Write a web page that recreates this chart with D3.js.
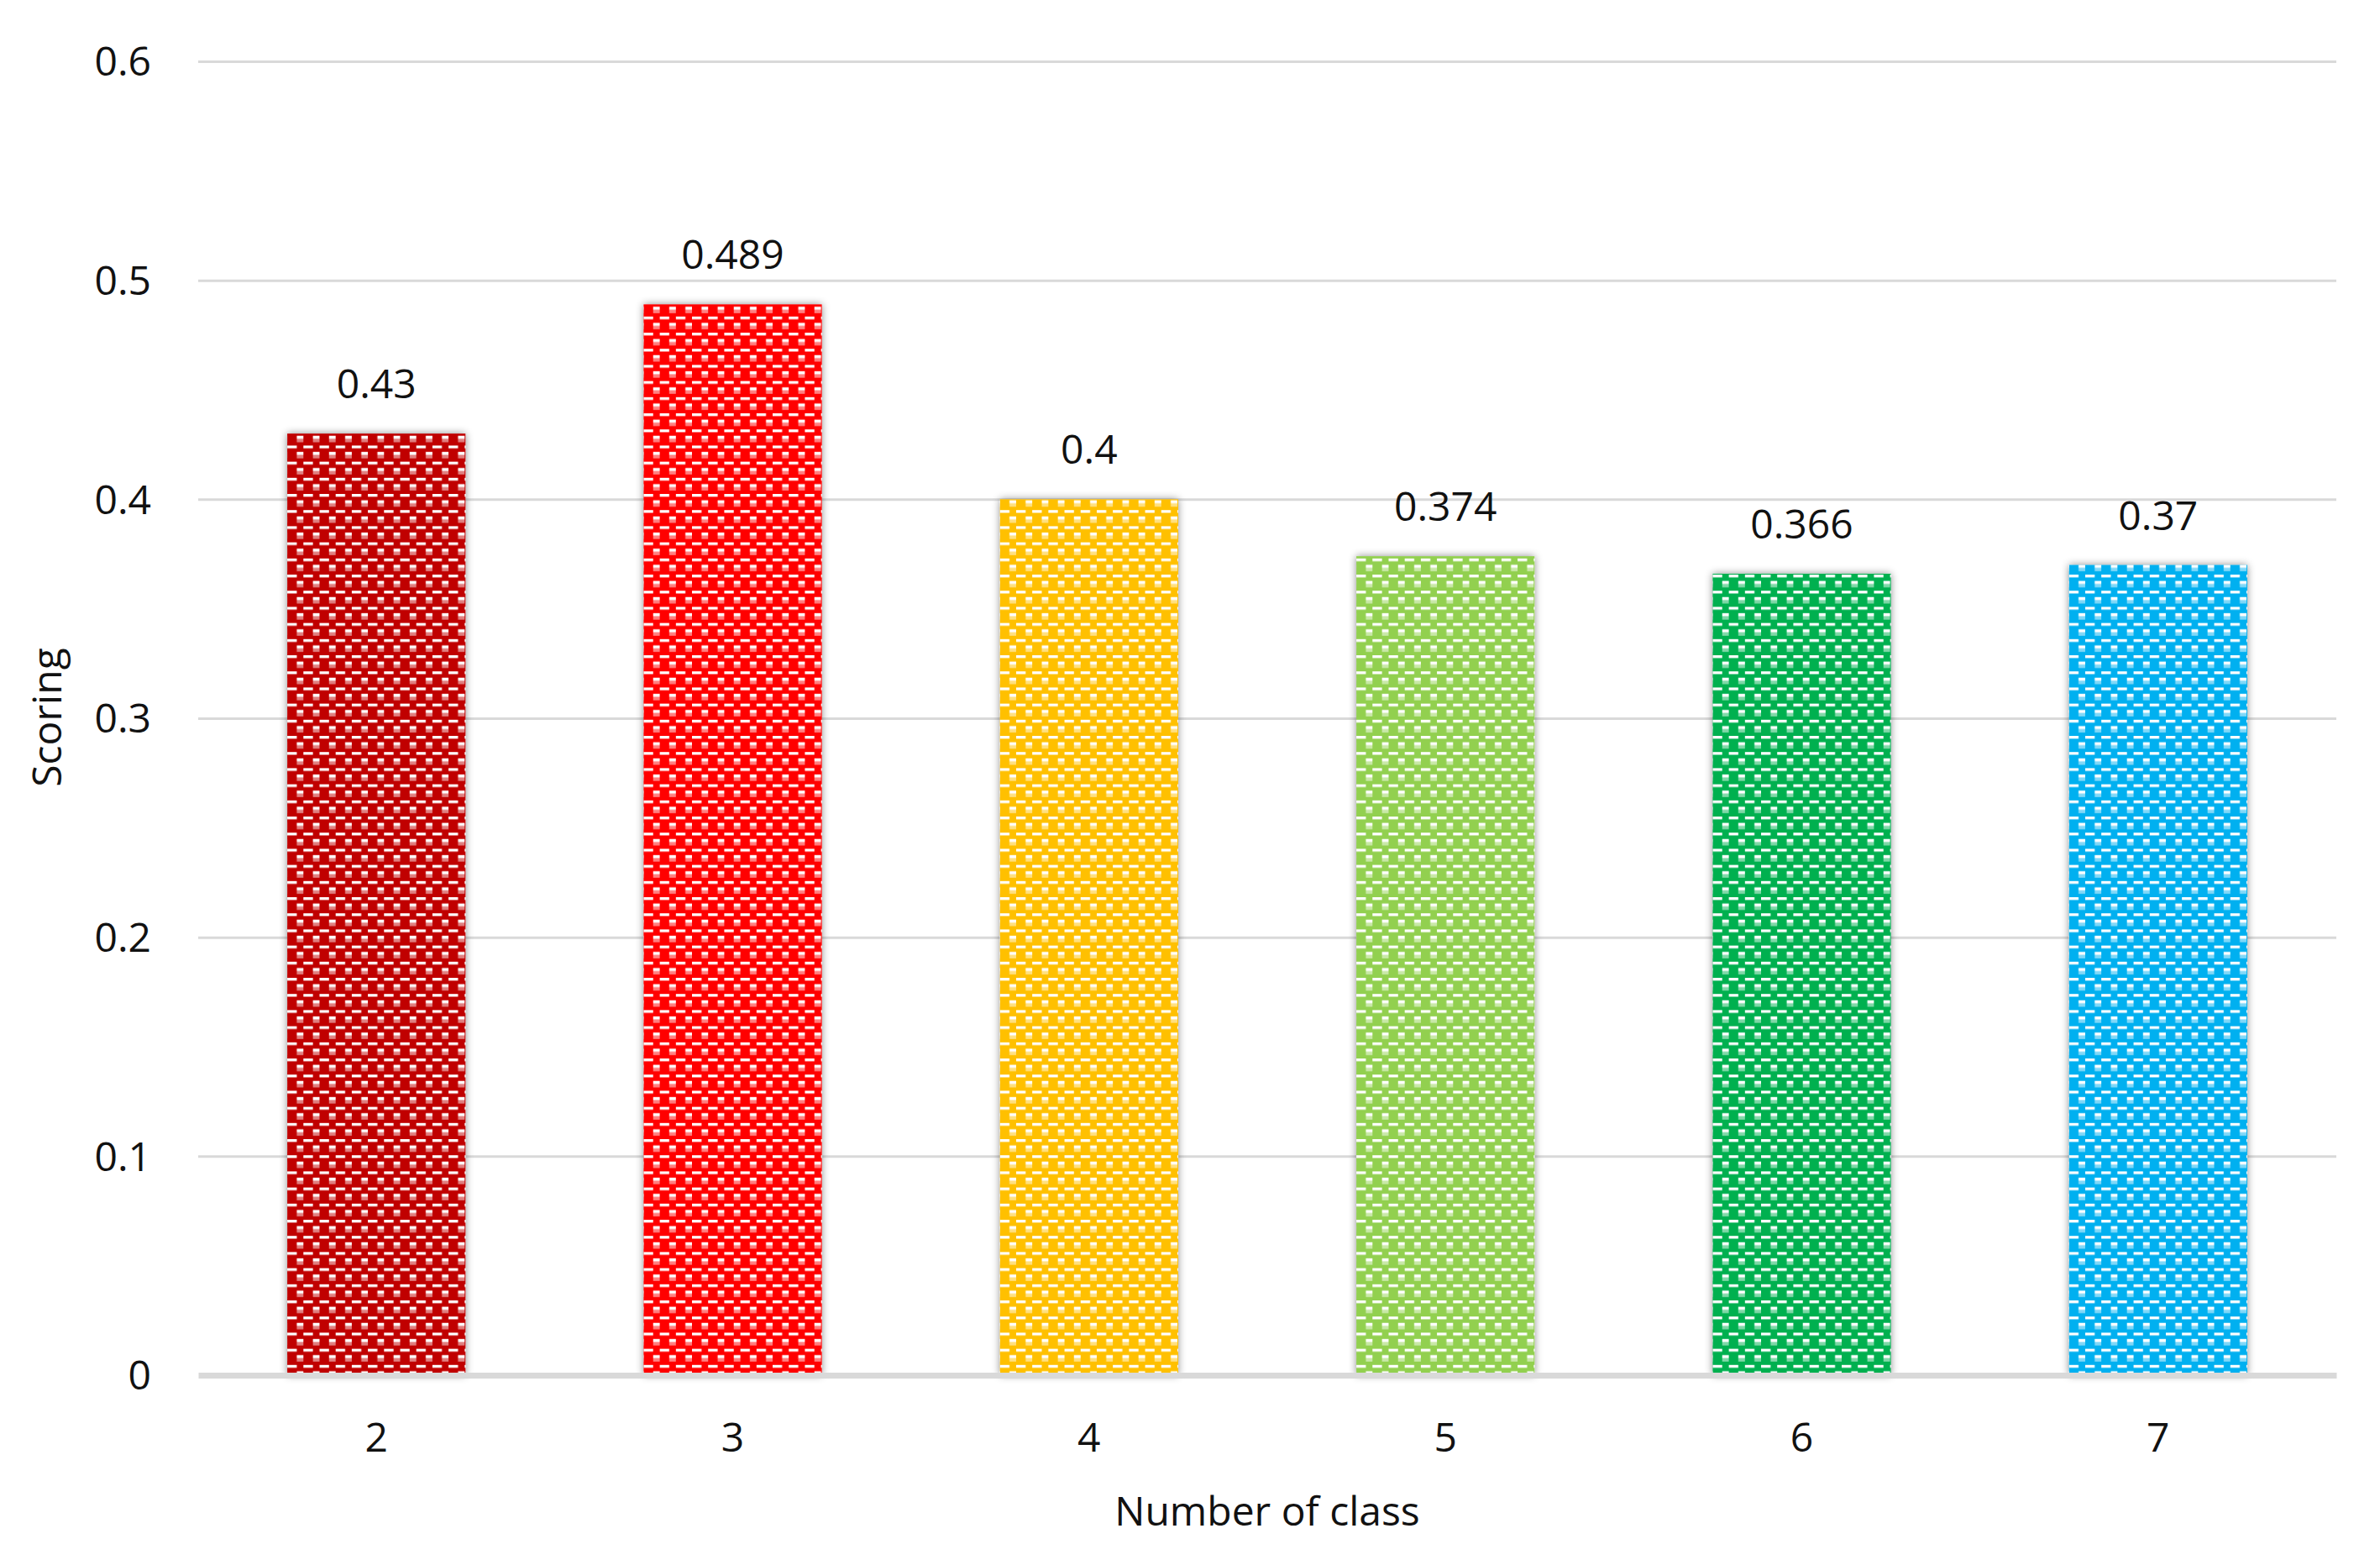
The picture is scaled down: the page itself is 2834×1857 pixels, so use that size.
<!DOCTYPE html>
<html>
<head>
<meta charset="utf-8">
<script src="https://cdn.jsdelivr.net/npm/d3@7"></script>
<style>
  html, body { margin: 0; padding: 0; background: #fff; }
  svg { display: block; }
  text { font-family: "Open Sans", "Noto Sans", sans-serif; fill: #111; }
</style>
</head>
<body>
<script>
const categories = ["2", "3", "4", "5", "6", "7"];
const values = [0.43, 0.489, 0.4, 0.374, 0.366, 0.37];
const barColors = ["#C00000", "#FF0000", "#FFC000", "#92D050", "#00B050", "#00B0F0"];
const yTicks = [0, 0.1, 0.2, 0.3, 0.4, 0.5, 0.6];
const yTickLabels = ["0", "0.1", "0.2", "0.3", "0.4", "0.5", "0.6"];
const xTitle = "Number of class";
const yTitle = "Scoring";

(function () {
const W = 2834, H = 1857;
const mLeft = 236, mRight = 2782, mTop = 73, mBottom = 1637;
const fs = 48;

const svg = d3.select("body").append("svg").attr("width", W).attr("height", H);
const defs = svg.append("defs");

const x = d3.scaleBand().domain(categories).range([mLeft, mRight]).paddingInner(0.5).paddingOuter(0.25);
const y = d3.scaleLinear().domain([0, 0.6]).range([mBottom, mTop]);

// shadow filter
const f = defs.append("filter").attr("id", "shadow")
  .attr("x", "-20%").attr("y", "-10%").attr("width", "140%").attr("height", "120%");
f.append("feDropShadow").attr("dx", 0).attr("dy", 0).attr("stdDeviation", 5)
  .attr("flood-color", "#000").attr("flood-opacity", 0.45);

// patterns
const T = 19.2;
categories.forEach((c, i) => {
  const p = defs.append("pattern").attr("id", "pat" + i)
    .attr("patternUnits", "userSpaceOnUse")
    .attr("x", x(c)).attr("y", 12)
    .attr("width", T).attr("height", T);
  p.append("rect").attr("width", T).attr("height", T).attr("fill", barColors[i]);
  p.append("rect").attr("x", 0).attr("y", 0).attr("width", 11.3).attr("height", 3.3).attr("fill", "#fff");
  p.append("rect").attr("x", 11.3).attr("y", 7.5).attr("width", 7.9).attr("height", 3.7).attr("fill", "#fff");
  p.append("rect").attr("x", 11.3).attr("y", 11.2).attr("width", 7.9).attr("height", 4).attr("fill", "#fff").attr("fill-opacity", 0.5);
});

// y axis with gridlines
const yAxis = svg.append("g").attr("transform", `translate(${mLeft},0)`)
  .call(d3.axisLeft(y).tickValues(yTicks).tickFormat((d, i) => yTickLabels[i])
    .tickSize(-(mRight - mLeft)).tickPadding(56));
yAxis.select(".domain").remove();
yAxis.selectAll(".tick line").attr("stroke", "#d9d9d9").attr("stroke-width", 3)
  .attr("display", d => d === 0 ? "none" : null);
yAxis.selectAll(".tick text").attr("font-size", fs).attr("dy", "0.35em")
  .attr("font-family", "Open Sans").attr("fill", "#111");

// bars
svg.append("g").selectAll("rect").data(values).join("rect")
  .attr("x", (d, i) => x(categories[i]))
  .attr("y", d => y(d))
  .attr("width", x.bandwidth())
  .attr("height", d => y(0) - y(d))
  .attr("fill", (d, i) => `url(#pat${i})`)
  .attr("filter", "url(#shadow)");

// value labels
svg.append("g").selectAll("text").data(values).join("text")
  .attr("x", (d, i) => x(categories[i]) + x.bandwidth() / 2)
  .attr("y", d => y(d) - 42)
  .attr("text-anchor", "middle")
  .attr("font-size", fs)
  .text(d => String(d));

// x axis
const xAxis = svg.append("g").attr("transform", `translate(0,${mBottom})`)
  .call(d3.axisBottom(x).tickSize(0).tickSizeOuter(0).tickPadding(57));
xAxis.select(".domain").attr("stroke", "#d9d9d9").attr("stroke-width", 7);
xAxis.selectAll(".tick text").attr("font-size", fs)
  .attr("font-family", "Open Sans").attr("fill", "#111");

// titles
svg.append("text").attr("x", (mLeft + mRight) / 2).attr("y", 1816)
  .attr("text-anchor", "middle").attr("font-size", fs).text(xTitle);
svg.append("text").attr("transform", "translate(73,854) rotate(-90)")
  .attr("text-anchor", "middle").attr("font-size", fs).text(yTitle);
})();
</script>
</body>
</html>
